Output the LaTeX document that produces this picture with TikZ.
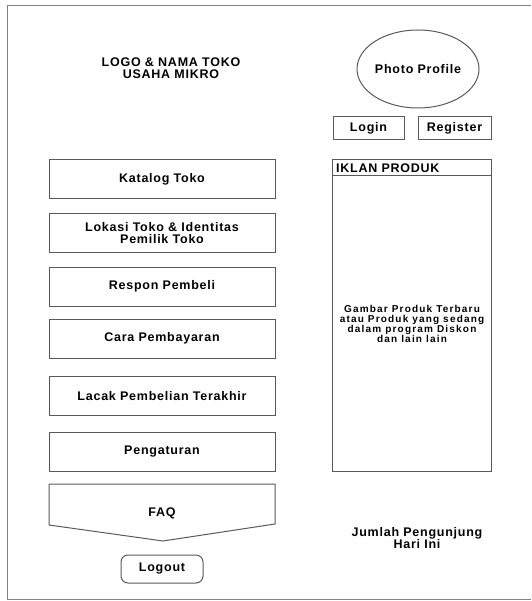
\documentclass[tikz,border=0pt]{standalone}
\usepackage{fontspec}
\setmainfont{Liberation Sans}
\newfontfamily\lblfont{Liberation Sans}[LetterSpace=6]
\newfontfamily\smallfont{Liberation Sans}[LetterSpace=12]
\usetikzlibrary{shapes.geometric}
\tikzset{
  frame/.style={draw=black!50, line width=0.9pt},
  box/.style={draw=black!65, line width=1pt},
  lblsize/.style={font=\lblfont\bfseries\fontsize{12.5}{12}\selectfont},
  menubox/.style={box, lblsize, minimum width=226pt, minimum height=39pt, inner sep=0pt,
    align=center},
  btn/.style={box, lblsize, minimum height=23pt, inner sep=0pt},
  lbl/.style={lblsize, align=center, inner sep=0pt},
  smalltxt/.style={align=center, inner sep=0pt, font=\smallfont\bfseries\fontsize{10}{10}\selectfont}
}
\begin{document}
\begin{tikzpicture}[x=1pt,y=-1pt]
\useasboundingbox (0,0) rectangle (531,601);
% page frame (open on the right)
\draw[frame] (531,5) -- (7,5) -- (7,599) -- (531,599);

% header
\node[lbl] (logo) at (171,68) {LOGO \& NAMA TOKO\\USAHA MIKRO};
\node[ellipse, box, lblsize, minimum width=122pt, minimum height=78pt, inner sep=0pt] (photo) at (418,69) {Photo Profile};
\node[btn, minimum width=71pt] (login) at (368.5,128.5) {Login};
\node[btn, minimum width=73pt] (register) at (454.5,128.5) {Register};

% menu column
\node[menubox] (katalog) at (162,179.5) {Katalog Toko};
\node[menubox] (lokasi) at (162,233) {Lokasi Toko \& Identitas\\Pemilik Toko};
\node[menubox] (respon) at (162,286.5) {Respon Pembeli};
\node[menubox] (bayar) at (162,338.5) {Cara Pembayaran};
\node[menubox] (lacak) at (162,396) {Lacak Pembelian Terakhir};
\node[menubox] (atur) at (162,451.5) {Pengaturan};

% FAQ pentagon
\coordinate (faqTL) at (49,484);
\coordinate (faqTR) at (275,484);
\coordinate (faqBR) at (275,524);
\coordinate (faqTip) at (163,541);
\coordinate (faqBL) at (49,525);
\draw[box, line join=round] (faqTL) -- (faqTR) -- (faqBR) -- (faqTip) -- (faqBL) -- cycle;
\node[lbl] (faq) at (162,513) {FAQ};

\node[box, lblsize, rounded corners=7pt, minimum width=82pt, minimum height=28pt, inner sep=0pt] (logout) at (162,569) {Logout};

% advertisement panel
\node[box, minimum width=159pt, minimum height=311pt, inner sep=0pt] (iklan) at (411.5,315.5) {};
\draw[box] (iklan.north west |- 0,176) coordinate (hdrL) -- (iklan.north east |- 0,176) coordinate (hdrR);
\node[lbl, anchor=west] (iklanTitle) at (336,168.5) {IKLAN PRODUK};
\node[smalltxt] (iklanText) at (412,324) {Gambar Produk Terbaru\\atau Produk yang sedang\\dalam program Diskon\\dan lain lain};

% visitor counter
\node[lbl] (visitor) at (417,538) {Jumlah Pengunjung\\Hari Ini};
\end{tikzpicture}
\end{document}
